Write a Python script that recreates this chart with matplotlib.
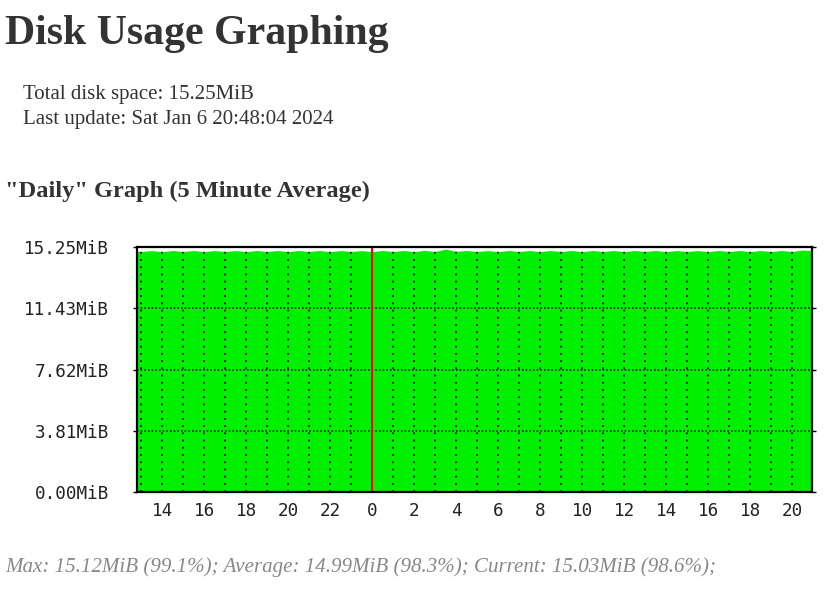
import numpy as np
import matplotlib.pyplot as plt

# disk usage samples (MiB), one per 30 minutes, from 12:30 yesterday to 21:00 today
start_hour = -11.5
step = 0.5
usage = [15.01, 14.97, 15.03, 14.96, 15.03, 14.97, 15.03, 14.96, 15.03, 14.97,
         15.03, 14.96, 15.03, 14.97, 15.03, 14.96, 15.03, 14.97, 15.03, 14.96,
         15.03, 14.97, 15.03, 14.96, 15.03, 14.97, 15.03, 14.96, 15.04, 14.97,
         15.12, 14.98, 15.03, 14.97, 15.03, 14.96, 15.03, 14.97, 15.03, 14.96,
         15.03, 14.97, 15.03, 14.96, 15.03, 14.97, 15.03, 14.96, 15.03, 14.97,
         15.03, 14.96, 15.03, 14.97, 15.03, 14.96, 15.03, 14.97, 15.03, 14.96,
         15.03, 14.97, 15.03, 14.97, 15.06, 15.03]
hours = start_hour + step * np.arange(len(usage))

total = 15.25
y_ticks = [0.0, 3.81, 7.62, 11.43, 15.25]
y_labels = ["0.00MiB", "3.81MiB", "7.62MiB", "11.43MiB", "15.25MiB"]
x_ticks = [-10, -8, -6, -4, -2, 0, 2, 4, 6, 8, 10, 12, 14, 16, 18, 20]
x_labels = ["14", "16", "18", "20", "22", "0", "2", "4", "6", "8",
            "10", "12", "14", "16", "18", "20"]

W, H = 833, 591
fig = plt.figure(figsize=(W / 100, H / 100), dpi=100)
fig.patch.set_facecolor("white")

serif = "Liberation Serif"
fig.text(5 / W, 1 - 44 / H, "Disk Usage Graphing", family=serif, weight="bold",
         size=30.2, color="#333333", va="baseline")
fig.text(23 / W, 1 - 99 / H, "Total disk space: 15.25MiB", family=serif,
         size=15.05, color="#333333", va="baseline")
fig.text(23 / W, 1 - 124 / H, "Last update: Sat Jan 6 20:48:04 2024", family=serif,
         size=15.05, color="#333333", va="baseline")
fig.text(5 / W, 1 - 197 / H, '"Daily" Graph (5 Minute Average)', family=serif,
         weight="bold", size=17.6, color="#333333", va="baseline")
fig.text(5 / W, 1 - 572 / H,
         "Max: 15.12MiB (99.1%); Average: 14.99MiB (98.3%); Current: 15.03MiB (98.6%);",
         family=serif, style="italic", size=15.1, color="#888888", va="baseline")

ax = fig.add_axes([137 / W, 99 / H, 675 / W, 245 / H])
ax.fill_between(hours, 0, usage, color="#00f000", lw=0)
ax.set_xlim(-11.2, 20.95)
ax.set_ylim(0, total)

# grid
for h in range(-11, 21):
    ax.axvline(h, color="black", lw=1.3, ls=(0, (1, 3.0)), zorder=2)
for y in y_ticks[1:-1]:
    ax.axhline(y, color="black", lw=1.1, ls=(0, (1, 1.4)), zorder=2)
ax.axvline(0, color="#ff0000", lw=1.5, zorder=3)

ax.set_yticks(y_ticks)
ax.set_yticklabels(y_labels)
ax.set_xticks(x_ticks)
ax.set_xticklabels(x_labels)
ax.tick_params(axis="y", length=3, width=1, pad=17, labelsize=12.7, right=True)
ax.tick_params(axis="x", length=0, pad=7, labelsize=12.7)
for lab in ax.get_xticklabels() + ax.get_yticklabels():
    lab.set_family("DejaVu Sans Mono")
    lab.set_color("#222222")
for s in ax.spines.values():
    s.set_linewidth(1.6)
    s.set_color("black")
    s.set_zorder(4)

fig.savefig("out.png", dpi=100)
